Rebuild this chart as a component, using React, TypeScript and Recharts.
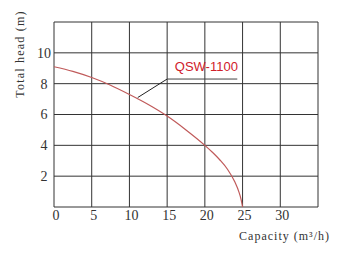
import {
  LineChart,
  Line,
  CartesianGrid,
  XAxis,
  YAxis,
  ReferenceLine,
  ReferenceDot,
  Label,
} from "recharts";

// Pump performance curve: head (m) vs capacity (m3/h) for QSW-1100.

const capacity = [0, 2.5, 5, 7.5, 10, 12.5, 15, 17.5, 20, 21, 22, 23, 24, 24.5, 24.8, 25];
const head = [9.1, 8.8, 8.4, 7.9, 7.3, 6.65, 5.9, 5.0, 4.0, 3.55, 3.05, 2.45, 1.6, 1.0, 0.5, 0];

const xTicks = [0, 5, 10, 15, 20, 25, 30, 35];
const yTicks = [0, 2, 4, 6, 8, 10, 12];
const hiddenX = [35];
const hiddenY = [0, 12];

const modelName = "QSW-1100";
const yTitle = "Total head (m)";
const xTitle = "Capacity (m³/h)";

const data = capacity.map((q, i) => ({ q, h: head[i] }));

const titleFont = "Liberation Serif, serif";
const tickStyle = { fill: "#333", fontSize: 14, fontFamily: titleFont };

export default function App() {
  return (
    <LineChart
      width={340}
      height={240}
      data={data}
      margin={{ top: 14, right: 30, bottom: 21, left: 0 }}
    >
      <CartesianGrid stroke="#333" strokeWidth={1} />
      <XAxis
        type="number"
        dataKey="q"
        domain={[0, 35]}
        ticks={xTicks}
        tickFormatter={(v: number) => (hiddenX.includes(v) ? "" : String(v))}
        tick={{ ...tickStyle, dx: 2 }}
        tickLine={false}
        axisLine={false}
        tickSize={0}
        tickMargin={3}
        height={20}
        interval={0}
      >
        <Label
          content={() => (
            <text
              x={322}
              y={232}
              textAnchor="end"
              fill="#333"
              fontSize={12}
              fontFamily={titleFont}
              letterSpacing={1}
            >
              {xTitle}
            </text>
          )}
        />
      </XAxis>
      <YAxis
        type="number"
        domain={[0, 12]}
        ticks={yTicks}
        tickFormatter={(v: number) => (hiddenY.includes(v) ? "" : String(v))}
        tick={{ ...tickStyle, textAnchor: "middle" }}
        tickLine={false}
        axisLine={false}
        tickSize={0}
        tickMargin={10}
        width={46}
        interval={0}
      >
        <Label
          content={() => (
            <text
              x={12}
              y={46}
              transform="rotate(-90 12 46)"
              textAnchor="middle"
              dominantBaseline="central"
              fill="#333"
              fontSize={12}
              fontFamily={titleFont}
              letterSpacing={1.2}
            >
              {yTitle}
            </text>
          )}
        />
      </YAxis>
      <Line
        type="monotone"
        dataKey="h"
        stroke="#c05a5a"
        strokeWidth={1.2}
        dot={false}
        isAnimationActive={false}
      />
      <ReferenceLine
        segment={[
          { x: 11.1, y: 7.1 },
          { x: 15, y: 8.3 },
        ]}
        stroke="#222"
        strokeWidth={1}
      />
      <ReferenceLine
        segment={[
          { x: 15, y: 8.3 },
          { x: 24.3, y: 8.3 },
        ]}
        stroke="#444"
        strokeWidth={1}
      />
      <ReferenceDot
        x={20.2}
        y={9.1}
        r={0}
        fill="none"
        stroke="none"
        label={{
          value: modelName,
          fill: "#d0202a",
          fontSize: 13,
          fontFamily: "Liberation Sans, Arial, sans-serif",
          position: "center",
        }}
      />
    </LineChart>
  );
}
